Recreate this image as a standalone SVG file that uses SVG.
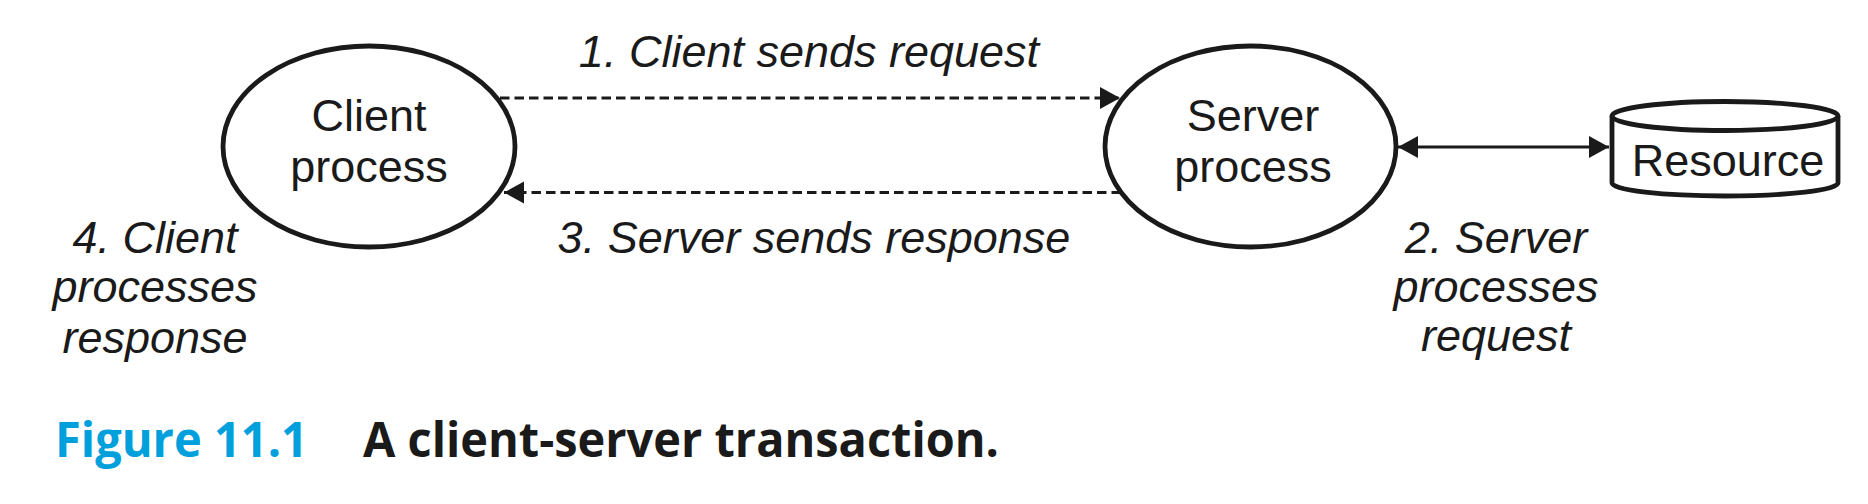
<svg xmlns="http://www.w3.org/2000/svg" width="1868" height="504" viewBox="0 0 1868 504">
  <style>
    .node { fill: #ffffff; stroke: #1a1a1a; stroke-width: 4.8; }
    .label { font-family: "Liberation Sans", Arial, sans-serif; font-size: 45px; fill: #1a1a1a; text-anchor: middle; }
    .note { font-family: "Liberation Sans", Arial, sans-serif; font-size: 45px; font-style: italic; fill: #1a1a1a; text-anchor: middle; }
    .dash { fill: none; stroke: #1a1a1a; stroke-width: 2.8; stroke-dasharray: 9.5 5; }
    .solid { fill: none; stroke: #1a1a1a; stroke-width: 2.8; }
    .capnum { font-family: "Open Sans", "Noto Sans", sans-serif; font-weight: bold; font-size: 48.5px; fill: #00a0dc; }
    .captext { font-family: "Open Sans", "Noto Sans", sans-serif; font-weight: bold; font-size: 48.5px; fill: #1a1a1a; }
  </style>
  <defs>
    <marker id="head" markerUnits="userSpaceOnUse" markerWidth="22" markerHeight="24" refX="20" refY="11" orient="auto-start-reverse" viewBox="0 0 22 22">
      <path d="M0,0 L20,11 L0,22 Z" fill="#1a1a1a"/>
    </marker>
  </defs>

  <g id="client">
    <ellipse class="node" cx="369" cy="146.5" rx="146" ry="100.5"/>
    <text class="label" x="369" y="131">Client</text>
    <text class="label" x="369" y="182">process</text>
  </g>

  <g id="server">
    <ellipse class="node" cx="1250.5" cy="146.5" rx="145.5" ry="100.5"/>
    <text class="label" x="1253" y="131">Server</text>
    <text class="label" x="1253" y="182">process</text>
  </g>

  <g id="resource">
    <path class="node" d="M1612,116 V183 A113,13 0 0 0 1838,183 V116"/>
    <ellipse class="node" cx="1725" cy="116" rx="113" ry="14.5"/>
    <text class="label" x="1728" y="176">Resource</text>
  </g>

  <g id="connectors">
    <line class="dash" x1="500" y1="98" x2="1120" y2="98" marker-end="url(#head)"/>
    <line class="dash" x1="1121" y1="192.5" x2="504" y2="192.5" marker-end="url(#head)"/>
    <line class="solid" x1="1398" y1="147" x2="1609" y2="147" marker-start="url(#head)" marker-end="url(#head)"/>
  </g>

  <g id="labels">
    <text class="note" x="809" y="67">1. Client sends request</text>
    <text class="note" x="814" y="253">3. Server sends response</text>
    <text class="note" x="155" y="253">4. Client</text>
    <text class="note" x="155" y="302">processes</text>
    <text class="note" x="155" y="353">response</text>
    <text class="note" x="1496" y="253">2. Server</text>
    <text class="note" x="1496" y="302">processes</text>
    <text class="note" x="1496" y="351">request</text>
  </g>

  <g id="caption">
    <text class="capnum" x="55" y="457" textLength="253" lengthAdjust="spacingAndGlyphs">Figure 11.1</text>
    <text class="captext" x="363" y="457" textLength="636" lengthAdjust="spacingAndGlyphs">A client-server transaction.</text>
  </g>
</svg>
